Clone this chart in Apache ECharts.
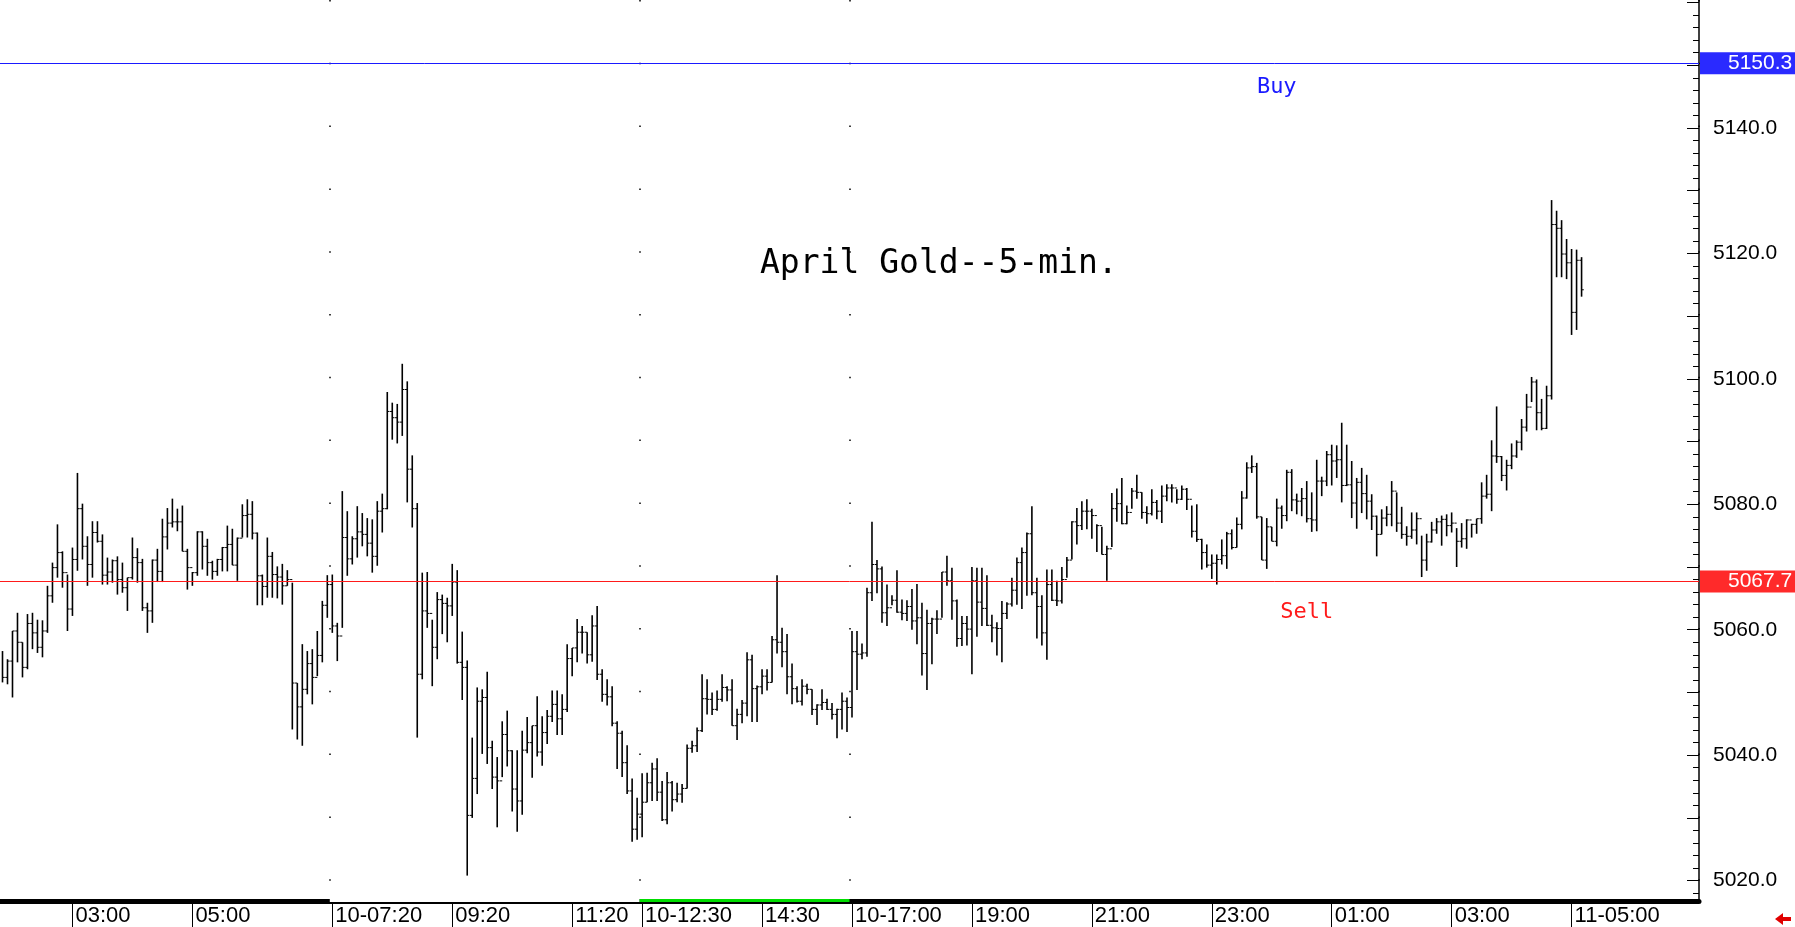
<!DOCTYPE html>
<html><head><meta charset="utf-8">
<script src="https://cdn.jsdelivr.net/npm/echarts@6/dist/echarts.min.js"></script>
<style>html,body{margin:0;padding:0;background:#fff}#c{width:1795px;height:927px}</style>
</head><body><div id="c"></div>
<script>
const tickLabels = {14:'03:00',38:'05:00',66:'10-07:20',90:'09:20',114:'11:20',128:'10-12:30',152:'14:30',170:'10-17:00',194:'19:00',218:'21:00',242:'23:00',266:'01:00',290:'03:00',314:'11-05:00'};
const sessionBreaks = [66,128,170];
const slotCount = 340;
const highs = [5056.6,5055.3,5059.8,5062.7,5058.0,5062.5,5062.7,5061.6,5061.5,5067.0,5070.7,5076.8,5072.5,5068.8,5073.1,5085.0,5080.1,5074.9,5077.3,5077.3,
5075.2,5071.5,5071.2,5071.7,5070.7,5068.3,5074.7,5073.0,5071.3,5064.3,5071.2,5072.9,5077.7,5079.4,5080.9,5079.3,5079.8,5072.9,5069.2,5075.7,
5075.7,5074.5,5071.0,5071.3,5073.2,5076.6,5076.1,5074.7,5080.0,5080.8,5080.5,5075.5,5068.8,5074.7,5072.4,5070.1,5070.5,5069.5,5067.5,5051.5,
5057.7,5056.6,5056.9,5059.8,5064.6,5068.7,5068.8,5061.1,5082.1,5078.9,5074.9,5079.7,5078.6,5077.8,5077.6,5080.5,5081.7,5097.9,5096.2,5096.0,
5102.4,5099.6,5087.8,5080.2,5069.1,5069.2,5061.6,5066.0,5065.6,5065.1,5070.5,5069.5,5059.7,5055.1,5042.8,5050.8,5050.5,5053.3,5042.3,5039.7,
5045.4,5047.1,5040.8,5040.8,5043.9,5046.1,5044.7,5049.4,5046.2,5047.2,5050.3,5050.3,5049.7,5057.7,5057.1,5061.7,5060.6,5059.6,5062.3,5063.8,
5053.7,5052.1,5051.0,5045.4,5043.9,5041.6,5036.3,5033.2,5037.1,5037.2,5038.8,5039.5,5035.9,5037.3,5035.9,5035.6,5035.4,5041.7,5042.3,5044.4,
5052.9,5052.1,5050.0,5050.3,5052.9,5051.0,5052.1,5047.4,5048.8,5056.4,5056.0,5051.1,5053.7,5053.7,5059.0,5068.7,5060.3,5059.3,5054.6,5051.0,
5052.1,5051.4,5050.5,5048.1,5050.5,5049.0,5048.3,5047.4,5050.0,5049.2,5059.8,5059.8,5057.8,5066.7,5077.2,5071.1,5070.1,5067.2,5065.5,5069.5,
5064.8,5064.7,5066.5,5067.3,5064.3,5063.2,5061.9,5063.1,5069.2,5071.8,5069.9,5064.8,5062.2,5062.2,5070.0,5069.9,5069.9,5068.7,5062.4,5061.2,
5064.6,5064.4,5068.3,5071.5,5073.1,5075.5,5079.7,5068.3,5065.5,5069.6,5069.6,5067.8,5070.0,5071.6,5077.3,5079.4,5080.5,5080.8,5079.3,5076.8,
5076.4,5073.4,5081.8,5082.5,5084.2,5079.8,5082.6,5084.7,5081.9,5079.7,5082.4,5080.7,5083.0,5083.2,5083.2,5082.4,5083.0,5082.6,5079.8,5080.0,
5074.5,5073.6,5072.0,5072.0,5074.4,5075.6,5076.0,5077.9,5082.1,5086.7,5087.8,5086.6,5078.0,5077.8,5076.4,5080.9,5079.8,5085.5,5085.6,5081.7,
5082.6,5083.7,5081.9,5087.1,5084.4,5088.5,5089.5,5089.4,5093.0,5089.5,5086.9,5084.2,5085.8,5084.7,5081.6,5078.2,5079.2,5079.7,5083.7,5081.9,
5079.6,5076.5,5078.7,5078.7,5075.0,5075.3,5077.2,5077.8,5078.2,5078.4,5078.7,5076.2,5077.0,5077.6,5076.9,5077.7,5083.5,5084.7,5090.2,5095.6,
5087.7,5087.1,5089.7,5090.2,5093.6,5097.6,5100.3,5099.9,5096.8,5098.9,5128.5,5126.8,5125.3,5122.3,5120.7,5120.6,5119.4];
const lows = [5051.6,5051.3,5049.2,5054.8,5052.4,5053.7,5056.9,5056.3,5055.6,5059.5,5064.3,5068.3,5066.7,5059.8,5062.2,5069.4,5071.2,5067.0,5068.3,5073.9,
5067.2,5067.2,5067.5,5065.6,5065.9,5063.0,5068.0,5067.5,5063.0,5059.5,5061.1,5067.6,5067.6,5072.8,5076.3,5075.7,5072.5,5066.4,5067.0,5068.6,
5069.6,5068.6,5068.0,5068.6,5069.3,5069.3,5070.3,5067.8,5074.7,5074.7,5074.4,5063.9,5063.9,5065.1,5065.1,5065.0,5064.0,5067.0,5044.1,5042.5,
5041.5,5049.7,5048.1,5052.6,5054.8,5061.9,5059.5,5055.0,5060.3,5068.6,5070.4,5071.5,5073.3,5071.7,5069.1,5070.2,5075.5,5079.2,5090.3,5089.7,
5090.9,5080.3,5076.3,5042.8,5052.1,5060.3,5051.0,5055.3,5059.3,5058.0,5062.2,5054.6,5048.8,5020.8,5030.0,5033.8,5040.2,5038.6,5034.6,5028.5,
5036.5,5038.2,5031.0,5027.8,5030.5,5040.3,5036.4,5039.8,5038.3,5041.8,5045.3,5043.2,5043.2,5046.9,5052.6,5054.8,5056.2,5054.6,5054.9,5052.0,
5048.5,5047.9,5044.6,5037.8,5036.5,5033.8,5026.2,5026.5,5026.9,5032.5,5032.7,5032.7,5029.5,5029.0,5031.0,5032.5,5032.4,5034.7,5040.4,5040.5,
5043.7,5046.5,5046.4,5047.1,5048.5,5048.6,5044.7,5042.4,5045.1,5046.2,5045.3,5045.3,5049.7,5050.3,5051.6,5056.2,5054.0,5049.7,5048.1,5048.4,
5047.9,5049.7,5046.4,5044.8,5047.2,5047.2,5045.7,5042.7,5044.1,5043.7,5046.0,5050.4,5055.3,5055.7,5064.6,5065.8,5061.1,5060.6,5063.9,5062.7,
5061.5,5061.4,5060.0,5057.7,5052.7,5050.4,5054.5,5059.3,5061.9,5067.0,5061.6,5057.3,5057.4,5057.5,5052.9,5058.9,5060.6,5060.6,5058.0,5055.9,
5054.8,5061.7,5063.7,5064.0,5063.3,5065.4,5065.5,5058.6,5057.5,5055.2,5064.6,5063.8,5064.2,5068.3,5071.2,5073.6,5075.9,5076.0,5074.5,5072.4,
5072.0,5067.8,5073.2,5077.2,5076.8,5076.8,5079.3,5080.9,5077.7,5076.9,5078.2,5077.6,5077.0,5080.5,5080.3,5080.1,5080.7,5079.1,5074.7,5074.0,
5069.6,5069.9,5068.1,5067.2,5070.4,5069.7,5072.8,5073.1,5076.0,5080.9,5085.0,5077.7,5071.1,5069.7,5074.1,5073.3,5076.1,5077.3,5078.9,5078.4,
5078.1,5077.1,5075.6,5075.7,5081.3,5082.9,5083.0,5084.2,5080.3,5082.9,5077.8,5076.1,5078.6,5077.6,5075.9,5071.7,5075.2,5076.5,5076.5,5075.6,
5074.5,5073.4,5074.5,5073.6,5068.4,5069.4,5073.9,5075.3,5073.4,5074.9,5075.5,5070.0,5073.1,5072.9,5074.7,5075.3,5076.9,5080.9,5078.9,5086.6,
5083.7,5082.2,5085.6,5087.4,5088.6,5091.6,5096.3,5091.8,5091.8,5092.0,5096.7,5116.2,5116.2,5115.9,5107.0,5107.8,5113.1];
const closes = [5052.4,5055.0,5059.8,5058.0,5054.0,5061.0,5059.5,5057.2,5059.8,5065.4,5069.9,5072.3,5069.1,5063.3,5071.2,5079.3,5073.3,5070.4,5075.5,5074.1,
5068.7,5069.2,5071.0,5068.0,5066.7,5068.3,5071.5,5070.7,5063.5,5063.0,5071.1,5069.3,5074.8,5077.0,5077.2,5077.2,5072.5,5069.9,5069.1,5075.6,
5073.3,5070.7,5069.3,5071.2,5073.1,5073.6,5070.3,5074.6,5078.2,5078.4,5075.4,5068.6,5066.9,5071.7,5068.8,5068.4,5067.0,5068.0,5051.5,5047.7,
5050.5,5054.6,5052.4,5055.9,5063.9,5067.2,5060.6,5059.0,5074.7,5071.3,5074.5,5075.6,5075.2,5073.8,5071.7,5078.9,5079.3,5094.8,5093.8,5093.1,
5098.3,5085.6,5079.3,5052.9,5063.0,5062.6,5057.2,5064.8,5064.2,5063.8,5067.6,5054.8,5054.0,5030.4,5036.3,5048.6,5049.2,5041.2,5036.5,5035.9,
5043.3,5040.7,5034.6,5032.7,5040.8,5042.0,5044.7,5040.5,5043.6,5046.2,5048.1,5045.8,5047.3,5055.4,5057.1,5059.6,5059.6,5056.0,5060.6,5052.9,
5049.7,5049.3,5045.1,5043.5,5038.8,5034.3,5028.2,5030.6,5032.5,5035.6,5037.8,5034.1,5029.7,5035.6,5032.9,5033.8,5034.7,5041.1,5041.5,5043.9,
5049.0,5048.9,5047.3,5048.9,5050.8,5050.4,5044.7,5046.5,5048.3,5055.2,5050.6,5050.9,5052.6,5051.6,5058.4,5058.0,5056.5,5052.5,5050.6,5048.6,
5051.0,5050.5,5047.3,5048.0,5048.4,5047.3,5046.5,5047.3,5048.6,5047.6,5056.5,5056.1,5056.3,5065.9,5070.4,5069.7,5062.7,5063.5,5064.7,5062.8,
5062.6,5063.7,5061.4,5061.9,5056.2,5061.0,5061.7,5061.7,5069.2,5067.8,5064.6,5058.6,5061.0,5060.1,5067.8,5064.4,5063.4,5060.7,5060.3,5060.2,
5062.6,5064.1,5066.3,5070.7,5072.3,5075.3,5065.9,5063.7,5059.5,5067.2,5064.7,5064.6,5068.0,5071.1,5077.2,5076.6,5078.9,5078.9,5078.2,5076.6,
5072.0,5072.9,5079.3,5080.1,5076.9,5078.7,5082.1,5081.9,5078.7,5078.5,5080.3,5078.9,5081.3,5082.6,5082.6,5080.8,5082.4,5080.8,5075.7,5074.4,
5072.3,5070.3,5070.6,5071.2,5071.8,5075.3,5073.1,5076.8,5081.0,5085.8,5086.0,5078.0,5071.1,5076.4,5074.1,5079.4,5078.2,5085.1,5080.7,5080.5,
5080.9,5077.7,5077.5,5083.7,5083.7,5087.9,5086.9,5087.1,5083.0,5083.1,5080.2,5083.5,5081.7,5080.5,5078.1,5075.2,5077.8,5078.4,5082.1,5077.0,
5075.2,5074.9,5075.9,5077.7,5071.1,5074.0,5075.9,5077.2,5077.6,5076.6,5077.0,5074.1,5074.5,5077.5,5076.8,5077.7,5081.3,5081.6,5087.7,5087.6,
5084.6,5086.2,5087.7,5089.9,5092.3,5095.5,5099.5,5094.6,5092.1,5097.3,5124.6,5124.0,5119.9,5118.5,5110.6,5118.9,5114.2];
const buyLevel = 5150.3, sellLevel = 5067.7, lastPrice = 5114.5;
const titleText = 'April Gold--5-min.';
const annotations = [{text:'Buy',idx:255,price:5146.5,color:'#1a1aff'},{text:'Sell',idx:261,price:5062.8,color:'#ff1a1a'}];

const cats = Array.from({length:slotCount},(_,i)=>String(i));
const bars = highs.map((h,i)=>[i, i>0?closes[i-1]:closes[i], h, lows[i], closes[i]]);
const yMin = 5016.75, yMax = 5160.4;
const minorTicks=[], majorTicks=[], labelVals=[];
for(let v=5018; v<=5160; v+=2) minorTicks.push(v);
for(let v=5020; v<=5160; v+=10) majorTicks.push(v);
for(let v=5020; v<=5140; v+=20) labelVals.push(v);
const showIdx = (i)=> tickLabels[i]!==undefined;

const chart = echarts.init(document.getElementById('c'));
const axisFont = 'Liberation Sans Narrow, Arial Narrow, Liberation Sans, sans-serif';
const boxLabel = (txt,bg)=>({show:true,position:'end',distance:1,formatter:()=>txt,backgroundColor:bg,color:'#fff',fontFamily:'Liberation Sans',fontSize:21,padding:[1,3,0,28]});
chart.setOption({
  animation:false,
  backgroundColor:'#fff',
  title:{text:titleText,left:755,top:243,textStyle:{fontFamily:'DejaVu Sans Mono',fontWeight:'normal',fontSize:33,color:'#000'}},
  grid:{left:0,right:96,top:0,bottom:25,containLabel:false},
  xAxis:{type:'category',data:cats,boundaryGap:true,
    axisLine:{lineStyle:{color:'#000',width:5}},
    axisTick:{show:true,alignWithLabel:true,interval:(i)=>showIdx(i),length:26,lineStyle:{color:'#000',width:1}},
    axisLabel:{interval:(i)=>showIdx(i),formatter:(v)=>tickLabels[+v],align:'left',margin:4,padding:[0,0,0,3],
      fontFamily:axisFont,fontSize:22,color:'#000'},
    splitLine:{show:true,interval:(i)=>sessionBreaks.indexOf(i)>=0,lineStyle:{color:'#000',type:[1.5,61.3],dashOffset:0,width:1.5}}
  },
  yAxis:[{type:'value',position:'right',min:yMin,max:yMax,
    axisLine:{show:true,lineStyle:{color:'#000',width:1.5}},
    axisTick:{show:true,inside:true,length:6,customValues:minorTicks,lineStyle:{color:'#000'}},
    axisLabel:{customValues:labelVals,formatter:(v)=>v.toFixed(1),fontFamily:'Liberation Sans',fontSize:21,color:'#000',margin:14},
    splitLine:{show:false}},
   {type:'value',position:'right',min:yMin,max:yMax,
    axisLine:{show:false},axisLabel:{show:false},splitLine:{show:false},
    axisTick:{show:true,inside:true,length:12,customValues:majorTicks,lineStyle:{color:'#000'}}}],
  series:[
   {type:'custom',name:'bars',data:bars,clip:false,
    renderItem:(params,api)=>{
      const i=api.value(0);
      const hi=api.coord([i,api.value(2)]), lo=api.coord([i,api.value(3)]);
      const op=api.coord([i,api.value(1)]), cl=api.coord([i,api.value(4)]);
      const w=api.size([1,0])[0]*0.45;
      const st={stroke:'#000',lineWidth:1.6};
      const ch=[{type:'line',shape:{x1:hi[0],y1:hi[1],x2:lo[0],y2:lo[1]},style:st},
                {type:'line',shape:{x1:cl[0],y1:cl[1],x2:cl[0]+w,y2:cl[1]},style:{stroke:'#000',lineWidth:1}}];
      if(i>0) ch.push({type:'line',shape:{x1:op[0]-w,y1:op[1],x2:op[0],y2:op[1]},style:{stroke:'#000',lineWidth:1}});
      return {type:'group',children:ch};
    },
    markLine:{symbol:'none',silent:true,
      data:[
        {yAxis:buyLevel,lineStyle:{color:'#1a1aff',width:1,type:'solid'},label:boxLabel(buyLevel.toFixed(1),'#2a2aff')},
        {yAxis:sellLevel,lineStyle:{color:'#ff1a1a',width:1,type:'solid'},label:boxLabel(sellLevel.toFixed(1),'#ff2a2a')},
        {yAxis:lastPrice,lineStyle:{opacity:0},label:boxLabel(lastPrice.toFixed(1),'#1a1a1a')}
      ]}
   },
   {type:'custom',name:'notes',data:annotations.map(a=>[a.idx,a.price]),clip:false,z:20,
    renderItem:(params,api)=>{
      const a=annotations[params.dataIndex];
      const p=api.coord([api.value(0),api.value(1)]);
      return {type:'text',x:p[0],y:p[1],style:{text:a.text,fill:a.color,font:'22px DejaVu Sans Mono',align:'center',verticalAlign:'middle'}};
    }},
   {type:'custom',name:'sessions',data:[[66,128,'#ffffff'],[128,170,'#00dd00']],clip:false,z:20,zlevel:1,
    renderItem:(params,api)=>{
      const a=api.coord([api.value(0),yMin]), b=api.coord([api.value(1),yMin]);
      const w=api.size([1,0])[0];
      return {type:'rect',shape:{x:a[0]-w/2,y:a[1]-2,width:b[0]-a[0],height:3},style:{fill:api.value(2)}};
    }}
  ],
  graphic:[{type:'polygon',right:4,bottom:2,shape:{points:[[0,6],[8,0],[8,4],[16,4],[16,8],[8,8],[8,12]]},style:{fill:'#e00000'}}]
});
</script></body></html>
